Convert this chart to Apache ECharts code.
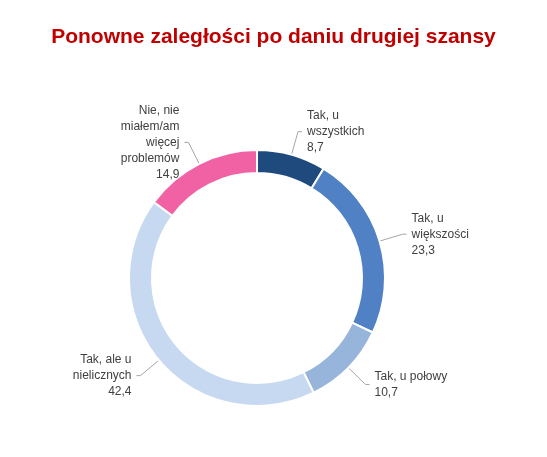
<!DOCTYPE html>
<html><head><meta charset="utf-8">
<script src="https://cdn.jsdelivr.net/npm/echarts@6/dist/echarts.min.js"></script>
<style>html,body{margin:0;padding:0;background:#fff}#c{width:547px;height:457px}</style>
</head><body><div id="c"></div>
<script>
const categories = ["Tak, u\nwszystkich", "Tak, u\nwiększości", "Tak, u połowy", "Tak, ale u\nnielicznych", "Nie, nie\nmiałem/am\nwięcej\nproblemów"];
const values = [8.7, 23.3, 10.7, 42.4, 14.9];
const colors = ["#1f4a7e", "#4f81c4", "#97b5da", "#c7d9f0", "#f062a3"];
const chart = echarts.init(document.getElementById('c'));
chart.setOption({
  animation: false,
  title: { text: "Ponowne zaległości po daniu drugiej szansy", left: 'center', top: 22,
    textStyle: { color: '#c00000', fontSize: 21, fontWeight: 'bold', fontFamily: 'Liberation Sans, Arial' } },
  series: [{
    type: 'pie', startAngle: 90, clockwise: true,
    center: [257, 278], radius: [105, 128],
    itemStyle: { borderColor: '#fff', borderWidth: 2 },
    label: { show: true, formatter: p => p.name + '\n' + p.value.toFixed(1).replace('.', ','),
      color: '#404040', fontSize: 12, lineHeight: 16, fontFamily: 'Liberation Sans, Arial' },
    labelLine: { show: true, length: 24, length2: 4, lineStyle: { color: '#a6a6a6' } },
    data: categories.map((c, i) => ({ name: c, value: values[i], itemStyle: { color: colors[i] } }))
  }]
});
</script></body></html>
